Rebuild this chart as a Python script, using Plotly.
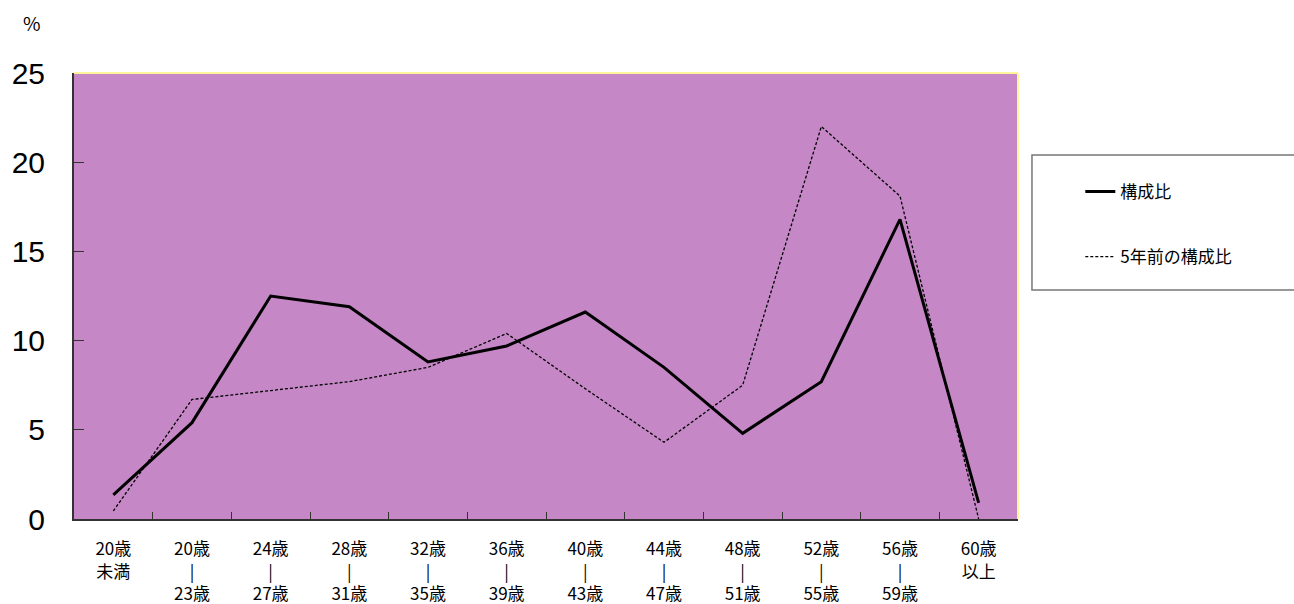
import plotly.graph_objects as go

categories = ["20歳<br>未満", "20歳<br>|<br>23歳", "24歳<br>|<br>27歳", "28歳<br>|<br>31歳",
              "32歳<br>|<br>35歳", "36歳<br>|<br>39歳", "40歳<br>|<br>43歳", "44歳<br>|<br>47歳",
              "48歳<br>|<br>51歳", "52歳<br>|<br>55歳", "56歳<br>|<br>59歳", "60歳<br>以上"]
current = [1.35, 5.4, 12.5, 11.9, 8.8, 9.7, 11.6, 8.5, 4.8, 7.7, 16.8, 0.9]
five_years_ago = [0.45, 6.7, 7.2, 7.7, 8.5, 10.4, 7.3, 4.3, 7.5, 22.0, 18.1, 0.0]

JP = "Noto Sans CJK JP"

fig = go.Figure()
fig.add_trace(go.Scatter(x=categories, y=current, mode="lines", name="構成比",
                         line=dict(color="black", width=3), legendgroup="a"))
fig.add_trace(go.Scatter(x=categories, y=five_years_ago, mode="lines", name="5年前の構成比",
                         line=dict(color="black", width=1.3, dash="3px,2px"), legendgroup="b"))

fig.update_layout(
    width=1294, height=604,
    margin=dict(l=74, r=276, t=73, b=85, autoexpand=False),
    paper_bgcolor="white", plot_bgcolor="#c587c5",
    font=dict(family=JP, color="black"),
    showlegend=True,
    legend=dict(x=1.066, y=0.7736, xanchor="left", yanchor="top", bgcolor="rgba(0,0,0,0)",
                borderwidth=0, font=dict(family=JP, size=17), tracegroupgap=40,
                traceorder="grouped", itemwidth=30),
    xaxis=dict(type="category", range=[-0.5, 11.5], tickson="boundaries", ticks="inside",
               ticklen=7, tickcolor="#333", showline=True, linecolor="#333", linewidth=2,
               showgrid=False, zeroline=False, tickfont=dict(family=JP, size=17),
               ticklabelstandoff=14, automargin=False),
    yaxis=dict(range=[0, 25], tickvals=[0, 5, 10, 15, 20, 25], ticks="inside", ticklen=10,
               tickcolor="#333", showline=True, linecolor="#333", linewidth=2, showgrid=False,
               zeroline=False, tickfont=dict(family="Liberation Sans", size=30),
               ticklabelstandoff=21, automargin=False),
    shapes=[
        dict(type="line", xref="paper", yref="paper", x0=0, x1=1, y0=1, y1=1,
             line=dict(color="#fff59d", width=2)),
        dict(type="line", xref="paper", yref="paper", x0=1, x1=1, y0=0, y1=1,
             line=dict(color="#fff59d", width=2)),
        dict(type="rect", xref="paper", yref="paper", x0=1.0148, x1=1.2987, y0=0.5135, y1=0.816,
             line=dict(color="#777", width=1.5), fillcolor="white", layer="below"),
    ],
    annotations=[
        dict(text="%", xref="paper", yref="paper", x=(32 - 74) / 944, y=(519 - 22) / 446,
             showarrow=False, font=dict(family=JP, size=19), xanchor="center", yanchor="middle"),
    ],
)

fig.write_html("out.html")
